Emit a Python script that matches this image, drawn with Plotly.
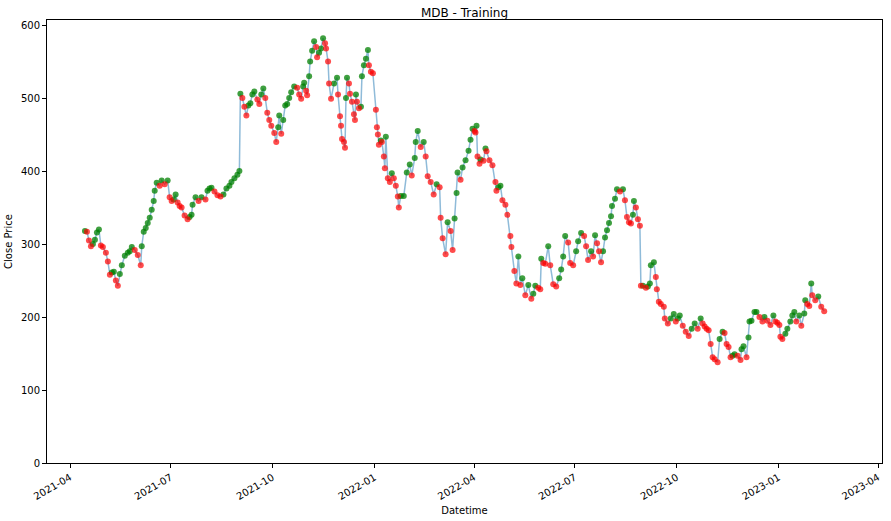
import pandas as pd
import plotly.graph_objects as go

start_date = "2021-04-01"

day_offset = [
    13.5, 15.3, 17.1, 18.9, 20.7, 22.5, 24.3, 26.1, 27.9, 29.7, 32.4, 34.2, 36.0, 37.8, 39.6, 41.4, 43.2,
    45.0, 46.8, 49.5, 52.2, 54.0, 55.8, 58.5, 61.2, 63.9, 64.8, 66.6, 68.4, 70.2, 72.0, 73.8, 75.6, 76.5,
    78.3, 81.0, 82.8, 85.5, 88.2, 90.0, 91.8, 93.6, 95.4, 97.2, 99.0, 100.8, 103.5, 106.2, 108.0, 109.8,
    110.7, 113.4, 116.1, 118.8, 122.4, 124.2, 126.0, 127.8, 130.5, 133.2, 135.9, 138.6, 141.3, 144.0,
    145.8, 148.5, 151.2, 153.0,
    153.9, 155.7, 157.5, 159.3, 161.1, 162.9, 164.7, 166.5, 169.2, 171.0, 172.8, 174.6, 176.4, 178.2,
    180.0, 181.8, 184.5, 186.3, 188.1, 189.0, 190.8, 192.6, 194.4, 196.2, 198.0, 199.8, 202.5, 205.2,
    207.0, 208.8, 210.6, 211.5, 213.3, 214.2, 216.0, 216.9, 218.7, 220.5, 222.3, 223.2, 225.0, 226.8,
    228.6, 230.4, 231.3, 233.1, 234.0, 235.8,
    238.5, 241.2, 242.1, 243.9, 244.8, 245.7, 247.5, 248.4, 249.3, 250.2, 252.0, 252.9, 254.7, 256.5,
    257.4, 258.3, 259.2, 261.0, 262.8, 263.7, 265.5, 267.3, 269.1, 270.0, 271.8, 273.6, 276.3, 277.2,
    278.1, 279.0, 280.8, 281.7, 283.5, 284.4, 285.3, 287.1, 288.9, 290.7, 292.5, 294.3, 296.1, 297.0,
    298.8, 301.5, 304.2, 306.9, 308.7, 311.4, 312.3, 314.1, 316.8, 319.5, 321.3, 323.1, 325.8, 328.5,
    331.2, 333.9, 334.8, 336.6, 339.3, 341.1, 343.8, 345.6, 347.4, 349.2,
    350.1, 352.8, 354.6, 357.3, 360.0, 361.8, 363.6, 365.4, 366.3, 367.2, 368.1, 369.9, 370.8, 373.5,
    375.3, 376.2, 378.9, 381.6, 384.3, 385.2, 387.0, 388.8, 390.6, 393.3, 395.1, 397.8, 398.7, 401.4,
    403.2, 405.0, 406.8, 408.6, 411.3, 414.0, 416.7, 418.5, 420.3, 423.0, 424.8, 425.7, 427.5, 429.3,
    432.0, 433.8, 436.5, 439.2, 441.9, 443.7, 445.5, 447.3, 450.0, 451.8, 454.5, 457.2, 459.0, 461.7,
    464.4, 466.2, 468.0, 470.7,
    472.5, 474.3, 476.1, 477.9, 479.7, 481.5, 483.3, 485.1, 486.9, 488.7, 489.6, 492.3, 494.1, 496.8,
    499.5, 501.3, 503.1, 504.9, 506.7, 508.5, 509.4, 511.2, 513.0, 514.8, 515.7, 517.5, 520.2, 522.0,
    523.8, 524.7, 527.4, 529.2, 530.1, 531.9, 533.7, 536.4, 537.3, 540.0, 542.7, 545.4, 547.2, 549.0,
    550.8, 553.5, 556.2, 558.9, 561.6, 564.3, 567.0, 569.7, 571.5, 573.3, 575.1, 576.9, 578.7, 580.5,
    582.3, 585.0,
    586.8, 589.5, 591.3, 593.1, 594.9, 596.7, 598.5, 600.3, 603.0, 605.7, 606.6, 608.4, 611.1, 612.9,
    613.8, 615.6, 618.3, 620.1, 622.8, 625.5, 627.3, 630.0, 632.7, 635.4, 637.2, 639.0, 640.8, 641.7,
    643.5, 646.2, 648.0, 650.7, 652.5, 654.3, 656.1, 658.8, 660.6, 663.3, 664.2, 666.0, 667.8, 669.6,
    670.5, 673.2, 675.9, 678.6, 681.3,
]

close_price = [
    318, 317, 305, 297, 300, 306, 316, 320, 298, 296, 288, 276, 258, 261, 262, 250, 243,
    259, 271, 284, 288, 290, 296, 292, 285, 271, 297, 317, 322, 329, 336, 347, 359, 373,
    384, 380, 387, 382, 387, 364, 359, 361, 368, 357, 352, 350, 339, 334, 337, 340,
    354, 364, 359, 364, 361, 373, 376, 377, 372, 367, 365, 368, 376, 380,
    385, 390, 395, 400,
    506, 500, 488, 476, 490, 493, 505, 509, 498, 492, 505, 513, 500, 480,
    470, 462, 452, 440, 460, 476, 451, 470, 490, 492, 500, 508, 516, 514,
    505, 499, 516, 521, 510, 504, 530, 550, 565, 578, 570, 556, 562, 568,
    582, 575, 568, 550, 520, 499,
    520, 528, 505, 475, 462, 444, 440, 432, 500, 528, 520, 506, 495, 478,
    470, 505, 495, 486, 488, 530, 545, 554, 566, 545, 536, 534, 484, 460,
    450, 436, 442, 440, 420, 404, 447, 390, 385, 397, 390, 380, 365, 350,
    366, 366, 398, 409, 394, 418, 440, 455, 433, 440, 420, 393, 385, 368,
    382, 378, 336, 308, 286, 330, 318, 292, 335, 370,
    398, 388, 405, 415, 428, 443, 458, 455, 453, 462, 420, 410, 416, 414,
    431, 427, 415, 408, 385, 373, 378, 380, 360, 354, 340, 311, 296, 263,
    246, 283, 244, 253, 230, 244, 225, 232, 243, 240, 238, 280, 274, 273,
    297, 271, 245, 242, 253, 265, 283, 311, 302, 274, 271, 290, 304, 315,
    311, 297, 278, 290,
    283, 312, 301, 290, 275, 290, 309, 319, 329, 338, 352, 362, 375, 372,
    375, 360, 337, 330, 328, 340, 359, 350, 334, 325, 243, 243, 240, 242,
    246, 271, 275, 255, 238, 221, 218, 214, 198, 191, 198, 204, 194, 198,
    202, 188, 180, 174, 184, 191, 184, 198, 191, 187, 184, 182, 163, 145,
    142, 138,
    170, 180, 178, 163, 159, 145, 147, 149, 147, 141, 156, 160, 145, 172,
    194, 195, 207, 207, 200, 194, 200, 195, 189, 202, 194, 192, 189, 173,
    170, 177, 184, 194, 202, 207, 194, 202, 188, 205, 223, 218, 215, 246,
    230, 223, 228, 214, 208,
]

y_ticks = [0, 100, 200, 300, 400, 500, 600]
x_ticks = ["2021-04-01", "2021-07-01", "2021-10-01", "2022-01-01", "2022-04-01",
           "2022-07-01", "2022-10-01", "2023-01-01", "2023-04-01"]
x_tick_labels = ["2021-04", "2021-07", "2021-10", "2022-01", "2022-04",
                 "2022-07", "2022-10", "2023-01", "2023-04"]

dates = pd.Timestamp(start_date) + pd.to_timedelta(day_offset, unit="D")
df = pd.DataFrame({"Datetime": dates, "Close": close_price})
df["up"] = df["Close"].diff().fillna(1) >= 0

fig = go.Figure()
fig.add_trace(go.Scatter(
    x=df["Datetime"], y=df["Close"], mode="lines",
    line=dict(color="rgba(31,119,180,0.5)", width=1.5),
    hoverinfo="skip", showlegend=False,
))
up = df[df["up"]]
down = df[~df["up"]]
fig.add_trace(go.Scatter(
    x=up["Datetime"], y=up["Close"], mode="markers",
    marker=dict(color="green", size=6, opacity=0.75, line=dict(width=0)),
    showlegend=False,
))
fig.add_trace(go.Scatter(
    x=down["Datetime"], y=down["Close"], mode="markers",
    marker=dict(color="red", size=6, opacity=0.7, line=dict(width=0)),
    showlegend=False,
))

axis_common = dict(
    showline=True, linecolor="black", linewidth=1, mirror=True, automargin=False,
    ticks="outside", ticklen=4, tickcolor="black", showgrid=False, zeroline=False,
    tickfont=dict(family="DejaVu Sans", size=10, color="black"),
)

fig.update_layout(
    width=891, height=521,
    margin=dict(l=47, r=9, t=20, b=58),
    paper_bgcolor="white", plot_bgcolor="white",
    font=dict(family="DejaVu Sans", size=10, color="black"),
    title=dict(text="MDB - Training", x=0.5213, xanchor="center", y=0.975, yanchor="middle",
               yref="container", font=dict(size=12, color="black")),
    xaxis=dict(
        range=["2021-03-11 05:00", "2023-04-04 12:00"],
        tickvals=x_ticks, ticktext=x_tick_labels, tickangle=-30,
        title=dict(text="Datetime", font=dict(size=10), standoff=6),
        **axis_common,
    ),
    yaxis=dict(
        range=[0, 607], tickvals=y_ticks,
        title=dict(text="Close Price", font=dict(size=10), standoff=6),
        **axis_common,
    ),
)

fig.write_html(
    "out.html",
    config={"displayModeBar": False},
    post_script="document.body.style.margin='0';document.body.style.padding='0';",
)
